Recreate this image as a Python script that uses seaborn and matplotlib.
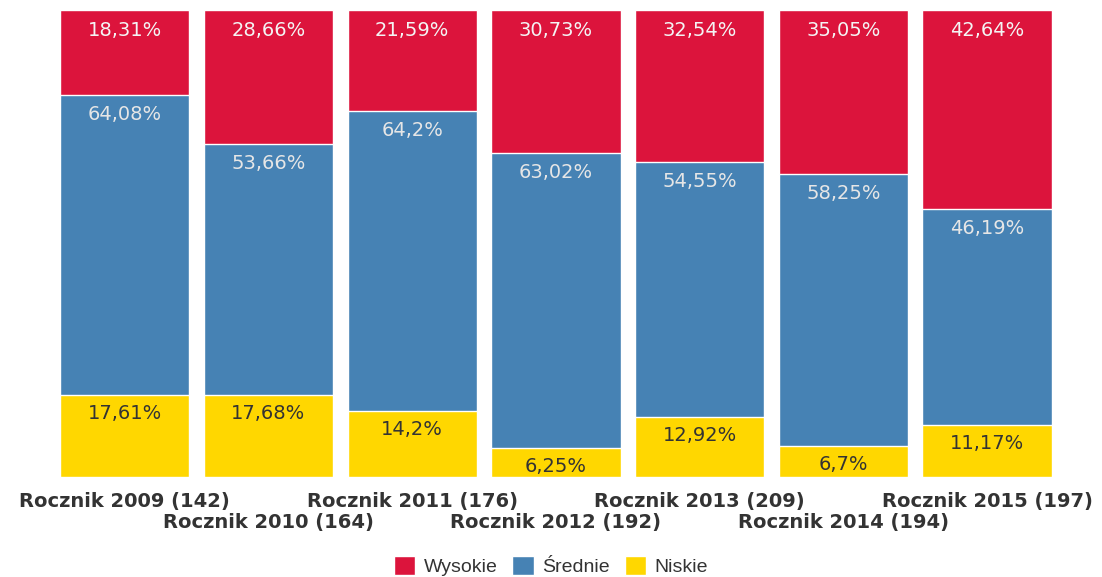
import pandas as pd
import matplotlib.pyplot as plt
import seaborn as sns
from matplotlib.patches import Patch

roczniki = ['Rocznik 2009 (142)', 'Rocznik 2010 (164)', 'Rocznik 2011 (176)',
            'Rocznik 2012 (192)', 'Rocznik 2013 (209)', 'Rocznik 2014 (194)',
            'Rocznik 2015 (197)']
wysokie = [18.31, 28.66, 21.59, 30.73, 32.54, 35.05, 42.64]
srednie = [64.08, 53.66, 64.2, 63.02, 54.55, 58.25, 46.19]
niskie = [17.61, 17.68, 14.2, 6.25, 12.92, 6.7, 11.17]

kolory = {'Wysokie': '#DC143C', 'Średnie': '#4682B4', 'Niskie': '#FFD700'}

df = pd.DataFrame({'rocznik': roczniki, 'Wysokie': wysokie,
                   'Średnie': srednie, 'Niskie': niskie})
df['sn'] = df['Średnie'] + df['Niskie']
df['suma'] = df['sn'] + df['Wysokie']

sns.set_style('white')
plt.rcParams['font.family'] = ['Verdana', 'DejaVu Sans']

fig = plt.figure(figsize=(11.02, 5.77), dpi=100)
ax = fig.add_axes([0.048, 0.173, 0.913, 0.810])

# warstwy od najwyższej sumy w dół
sns.barplot(data=df, x='rocznik', y='suma', color=kolory['Wysokie'], width=0.9,
            saturation=1, edgecolor='white', linewidth=1, ax=ax)
sns.barplot(data=df, x='rocznik', y='sn', color=kolory['Średnie'], width=0.9,
            saturation=1, edgecolor='white', linewidth=1, ax=ax)
sns.barplot(data=df, x='rocznik', y='Niskie', color=kolory['Niskie'], width=0.9,
            saturation=1, edgecolor='white', linewidth=1, ax=ax)

def fmt(v):
    return f'{v:g}'.replace('.', ',') + '%'

for i in range(len(df)):
    ax.annotate(fmt(wysokie[i]), (i, df['suma'][i]), xytext=(0, -15),
                textcoords='offset points', ha='center', va='center',
                fontsize=14, color='#f4f4f4')
    ax.annotate(fmt(srednie[i]), (i, df['sn'][i]), xytext=(0, -14),
                textcoords='offset points', ha='center', va='center',
                fontsize=14, color='#e6e6e6')
    ax.annotate(fmt(niskie[i]), (i, niskie[i]), xytext=(0, -13.5),
                textcoords='offset points', ha='center', va='center',
                fontsize=14, color='#333333')

ax.set_ylim(0, 100)
ax.set_xlim(-0.5, 6.5)
ax.set_yticks([])
ax.set_xlabel('')
ax.set_ylabel('')
sns.despine(ax=ax, left=True, bottom=True)

ax.set_xticks(range(len(roczniki)))
ax.set_xticklabels(roczniki, fontsize=14, fontweight='bold', color='#333333')
ax.tick_params(axis='x', length=0)
for i, tick in enumerate(ax.xaxis.get_major_ticks()):
    tick.set_pad(11 if i % 2 == 0 else 25.5)

uchwyty = [Patch(facecolor=c, label=k) for k, c in kolory.items()]
fig.legend(handles=uchwyty, loc='center', bbox_to_anchor=(0.5, 0.019),
           ncol=3, frameon=False, handlelength=1.1, handleheight=1.1,
           columnspacing=0.75, handletextpad=0.45, labelcolor='#333333',
           prop={'family': ['Liberation Sans', 'DejaVu Sans'], 'size': 14})

plt.savefig('out.png', dpi=100)
